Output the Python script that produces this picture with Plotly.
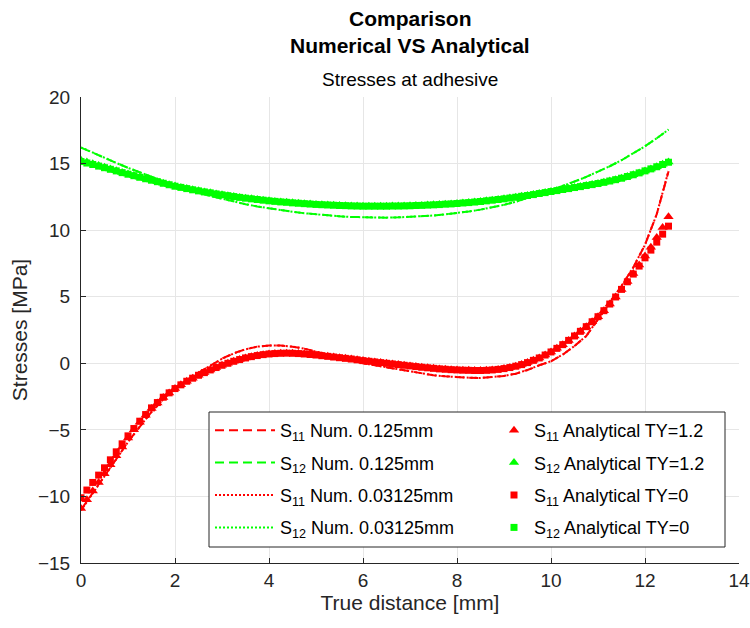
import plotly.graph_objects as go

# ---------------- data ----------------
mesh_step_num = 0.25
mesh_step_an = 0.125
x_num = [i * mesh_step_num for i in range(51)]
x_an = [i * mesh_step_an for i in range(101)]

s11_num_0125 = [-11.00, -9.75, -8.50, -7.20, -5.90, -4.75, -3.65, -2.70, -1.90, -1.25,
                -0.72, -0.17, 0.35, 0.75, 1.05, 1.25, 1.33, 1.33, 1.25, 1.10,
                0.90, 0.65, 0.42, 0.20, 0.00, -0.15, -0.30, -0.45, -0.60, -0.75,
                -0.90, -0.98, -1.05, -1.08, -1.10, -1.05, -0.95, -0.78, -0.50, -0.15,
                0.15, 0.65, 1.30, 2.05, 3.30, 4.55, 5.80, 7.20, 8.90, 11.20, 14.40]
s11_num_003125 = [-11.05, -9.78, -8.52, -7.22, -5.92, -4.76, -3.66, -2.71, -1.91, -1.26,
                  -0.73, -0.18, 0.34, 0.74, 1.05, 1.25, 1.33, 1.33, 1.25, 1.10,
                  0.90, 0.65, 0.42, 0.20, 0.00, -0.15, -0.30, -0.45, -0.60, -0.75,
                  -0.90, -0.98, -1.05, -1.08, -1.10, -1.05, -0.95, -0.78, -0.50, -0.15,
                  0.15, 0.65, 1.30, 2.05, 3.30, 4.55, 5.80, 7.20, 8.90, 11.20, 14.45]
s12_num_0125 = [16.20, 15.80, 15.42, 15.05, 14.68, 14.33, 14.00, 13.68, 13.38, 13.08,
                12.82, 12.57, 12.35, 12.14, 11.95, 11.78, 11.63, 11.50, 11.38, 11.27,
                11.18, 11.10, 11.04, 10.99, 10.96, 10.94, 10.94, 10.96, 10.99, 11.04,
                11.10, 11.18, 11.28, 11.40, 11.54, 11.70, 11.90, 12.13, 12.40, 12.70,
                13.00, 13.30, 13.65, 14.00, 14.38, 14.80, 15.25, 15.75, 16.30, 16.90, 17.55]
s12_num_003125 = [16.22, 15.81, 15.43, 15.05, 14.68, 14.33, 14.00, 13.68, 13.38, 13.08,
                  12.82, 12.57, 12.35, 12.14, 11.95, 11.78, 11.63, 11.50, 11.38, 11.27,
                  11.18, 11.10, 11.04, 10.99, 10.96, 10.94, 10.94, 10.96, 10.99, 11.04,
                  11.10, 11.18, 11.28, 11.40, 11.54, 11.70, 11.90, 12.13, 12.40, 12.70,
                  13.00, 13.30, 13.65, 14.00, 14.38, 14.80, 15.25, 15.75, 16.30, 16.90, 17.55]

s11_an_ty12 = [-10.90, -10.25, -9.60, -8.95, -8.30, -7.62, -6.95, -6.28, -5.62, -5.00,
               -4.42, -3.90, -3.40, -2.98, -2.57, -2.23, -1.90, -1.62, -1.35, -1.12,
               -0.90, -0.70, -0.50, -0.32, -0.15, 0.00, 0.15, 0.28, 0.40, 0.50,
               0.58, 0.65, 0.70, 0.73, 0.75, 0.76, 0.75, 0.73, 0.70, 0.66,
               0.62, 0.57, 0.52, 0.47, 0.42, 0.37, 0.32, 0.26, 0.20, 0.15,
               0.10, 0.05, 0.00, -0.05, -0.10, -0.15, -0.20, -0.25, -0.30, -0.34,
               -0.38, -0.42, -0.45, -0.48, -0.50, -0.52, -0.53, -0.54, -0.54, -0.53,
               -0.50, -0.46, -0.40, -0.32, -0.22, -0.10, 0.05, 0.22, 0.40, 0.62,
               0.85, 1.12, 1.40, 1.72, 2.05, 2.40, 2.75, 3.12, 3.50, 3.95,
               4.45, 4.98, 5.55, 6.14, 6.75, 7.38, 8.05, 8.72, 9.45, 10.20, 11.00]
s11_an_ty0 = [-10.10, -9.52, -8.95, -8.40, -7.85, -7.25, -6.65, -6.05, -5.45, -4.90,
              -4.35, -3.85, -3.35, -2.95, -2.55, -2.22, -1.90, -1.62, -1.35, -1.12,
              -0.90, -0.70, -0.50, -0.32, -0.15, 0.00, 0.15, 0.28, 0.40, 0.50,
              0.58, 0.65, 0.70, 0.73, 0.75, 0.76, 0.75, 0.73, 0.70, 0.66,
              0.62, 0.57, 0.52, 0.47, 0.42, 0.37, 0.32, 0.26, 0.20, 0.15,
              0.10, 0.05, 0.00, -0.05, -0.10, -0.15, -0.20, -0.25, -0.30, -0.34,
              -0.38, -0.42, -0.45, -0.48, -0.50, -0.52, -0.53, -0.54, -0.54, -0.53,
              -0.50, -0.46, -0.40, -0.32, -0.22, -0.10, 0.05, 0.22, 0.40, 0.62,
              0.85, 1.12, 1.40, 1.72, 2.05, 2.40, 2.75, 3.12, 3.50, 3.95,
              4.45, 4.98, 5.55, 6.12, 6.70, 7.30, 7.92, 8.50, 9.10, 9.70, 10.30]
s12_an_ty12 = [15.25, 15.11, 14.98, 14.85, 14.72, 14.59, 14.46, 14.33, 14.21, 14.10,
               13.98, 13.87, 13.76, 13.64, 13.53, 13.41, 13.31, 13.21, 13.12, 13.03,
               12.95, 12.87, 12.80, 12.72, 12.65, 12.59, 12.52, 12.46, 12.40, 12.35,
               12.30, 12.25, 12.20, 12.16, 12.12, 12.09, 12.05, 12.02, 11.99, 11.96,
               11.93, 11.91, 11.89, 11.87, 11.85, 11.84, 11.82, 11.81, 11.80, 11.80,
               11.80, 11.80, 11.80, 11.81, 11.81, 11.82, 11.83, 11.85, 11.86, 11.88,
               11.90, 11.92, 11.95, 11.97, 12.00, 12.04, 12.07, 12.11, 12.15, 12.20,
               12.25, 12.30, 12.35, 12.41, 12.47, 12.54, 12.60, 12.67, 12.75, 12.82,
               12.90, 12.97, 13.05, 13.12, 13.20, 13.27, 13.35, 13.42, 13.50, 13.59,
               13.69, 13.79, 13.90, 14.03, 14.16, 14.30, 14.45, 14.60, 14.76, 14.94, 15.12]
s12_an_ty0 = [15.15, 15.04, 14.93, 14.81, 14.69, 14.57, 14.45, 14.32, 14.20, 14.09,
              13.97, 13.86, 13.75, 13.64, 13.52, 13.41, 13.30, 13.21, 13.12, 13.03,
              12.95, 12.87, 12.80, 12.72, 12.65, 12.59, 12.52, 12.46, 12.40, 12.35,
              12.30, 12.25, 12.20, 12.16, 12.12, 12.09, 12.05, 12.02, 11.99, 11.96,
              11.93, 11.91, 11.89, 11.87, 11.85, 11.84, 11.82, 11.81, 11.80, 11.80,
              11.80, 11.80, 11.80, 11.81, 11.81, 11.82, 11.83, 11.85, 11.86, 11.88,
              11.90, 11.92, 11.95, 11.97, 12.00, 12.04, 12.07, 12.11, 12.15, 12.20,
              12.25, 12.30, 12.35, 12.41, 12.47, 12.54, 12.60, 12.67, 12.75, 12.82,
              12.90, 12.97, 13.05, 13.12, 13.20, 13.27, 13.35, 13.42, 13.50, 13.59,
              13.69, 13.79, 13.90, 14.03, 14.16, 14.30, 14.45, 14.60, 14.76, 14.93, 15.10]

x_ticks = [0, 2, 4, 6, 8, 10, 12, 14]
y_ticks = [-15, -10, -5, 0, 5, 10, 15, 20]

RED = "#ff0000"
GREEN = "#00ff00"
FONT = "Liberation Sans, Arial, Helvetica, sans-serif"

fig = go.Figure()

# numerical lines (legend column 1)
num_specs = [
    (s11_num_0125, RED, "9px,5px", "S<sub>11</sub> Num. 0.125mm"),
    (s12_num_0125, GREEN, "9px,5px", "S<sub>12</sub> Num. 0.125mm"),
    (s11_num_003125, RED, "2px,2px", "S<sub>11</sub> Num. 0.03125mm"),
    (s12_num_003125, GREEN, "2px,2px", "S<sub>12</sub> Num. 0.03125mm"),
]
for i, (ys, col, dash, name) in enumerate(num_specs):
    fig.add_trace(go.Scatter(x=x_num, y=ys, mode="lines",
                             line=dict(color=col, width=2, dash=dash),
                             name=name, legend="legend", legendgroup="n%d" % i))

# analytical markers (legend column 2)
an_specs = [
    (s11_an_ty12, RED, "triangle-up", 9, "S<sub>11</sub> Analytical TY=1.2"),
    (s12_an_ty12, GREEN, "triangle-up", 9, "S<sub>12</sub> Analytical TY=1.2"),
    (s11_an_ty0, RED, "square", 7, "S<sub>11</sub> Analytical TY=0"),
    (s12_an_ty0, GREEN, "square", 7, "S<sub>12</sub> Analytical TY=0"),
]
for i, (ys, col, sym, sz, name) in enumerate(an_specs):
    fig.add_trace(go.Scatter(x=x_an, y=ys, mode="markers",
                             marker=dict(symbol=sym, size=sz, color=col),
                             name=name, legend="legend2", legendgroup="a%d" % i))

W, H = 750, 628
L, T = 81, 97
R = W - 739
B = H - 563
pw = W - L - R
ph = H - T - B

def py(p):
    return (H - B - p) / ph

def px(p):
    return (p - L) / pw

titles = [("<b>Comparison</b>", 18, 21), ("<b>Numerical VS Analytical</b>", 46, 21),
          ("Stresses at adhesive", 79, 19)]
annotations = [dict(text=t, x=0.5, xref="paper", y=py(p), yref="paper",
                    xanchor="center", yanchor="middle", showarrow=False,
                    font=dict(family=FONT, size=s, color="#000000"))
               for t, p, s in titles]

legend_common = dict(orientation="v", xanchor="left", yanchor="top",
                     bgcolor="rgba(0,0,0,0)", borderwidth=0,
                     tracegroupgap=6, traceorder="grouped",
                     font=dict(family=FONT, size=18, color="#000000"))

fig.update_layout(
    width=W, height=H,
    margin=dict(l=L, r=R, t=T, b=B, autoexpand=False),
    paper_bgcolor="white", plot_bgcolor="white",
    font=dict(family=FONT, size=19, color="#262626"),
    annotations=annotations,
    showlegend=True,
    shapes=[dict(type="rect", xref="paper", yref="paper",
                 x0=px(209), x1=px(725), y0=py(547), y1=py(412),
                 fillcolor="white", line=dict(color="#262626", width=1),
                 layer="above")],
    legend=dict(x=px(210), y=py(412), itemwidth=60, **legend_common),
    legend2=dict(x=px(494), y=py(412), itemwidth=30, **legend_common),
    xaxis=dict(range=[0, 14], tickvals=x_ticks, ticks="inside", ticklen=5,
               tickcolor="#262626", showline=True, linecolor="#262626", linewidth=1,
               showgrid=True, gridcolor="#e6e6e6", zeroline=False, mirror=False,
               automargin=False,
               title=dict(text="True distance [mm]", font=dict(size=21, family=FONT),
                          standoff=4),
               tickfont=dict(size=19, family=FONT)),
    yaxis=dict(range=[-15, 20], tickvals=y_ticks, ticks="inside", ticklen=5,
               tickcolor="#262626", showline=True, linecolor="#262626", linewidth=1,
               showgrid=True, gridcolor="#e6e6e6", zeroline=False, mirror=False,
               automargin=False, ticklabelstandoff=6,
               title=dict(text="Stresses [MPa]", font=dict(size=21, family=FONT),
                          standoff=4),
               tickfont=dict(size=19, family=FONT)),
)

# remove the default 8px page margin so the figure fills the window exactly
fig.write_html("out.html",
               config={"displayModeBar": False},
               post_script="document.body.style.margin='0';"
                           "document.body.style.overflow='hidden';")
